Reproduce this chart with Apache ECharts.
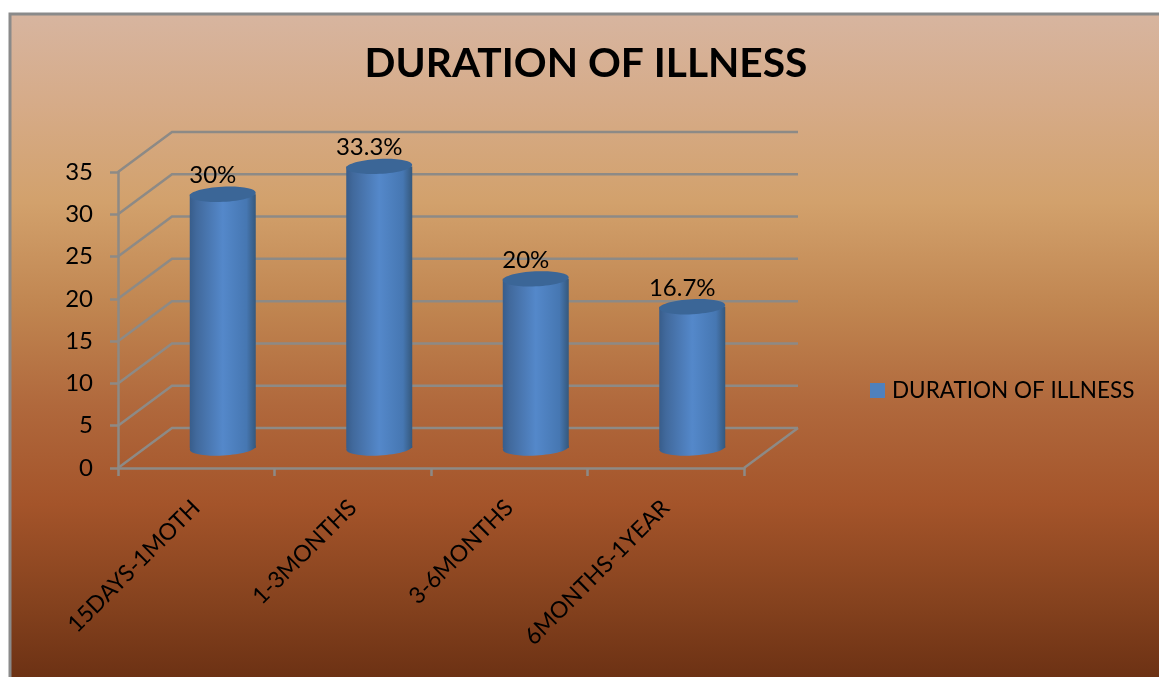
<!DOCTYPE html>
<html>
<head>
<meta charset="utf-8">
<title>Duration of illness</title>
<style>html,body{margin:0;padding:0;background:#fff}#chart{width:1159px;height:677px}</style>
<script src="https://cdn.jsdelivr.net/npm/echarts@6/dist/echarts.min.js"></script>
</head>
<body>
<div id="chart"></div>
<script>
const chartTitle = 'DURATION OF ILLNESS';
const categories = ['15DAYS-1MOTH', '1-3MONTHS', '3-6MONTHS', '6MONTHS-1YEAR'];
const durationValues = [30, 33.3, 20, 16.7];
const yTicks = [0, 5, 10, 15, 20, 25, 30, 35];

// Depth of the pseudo-3D box, in pixels.
const DEPTH_X = 54, DEPTH_Y = -40;
const FONT = 'Lato, "Open Sans", sans-serif';
const LINE = '#8d8a86';
const LINE_WIDTH = 2.5;

const chart = echarts.init(document.getElementById('chart'), null, { renderer: 'canvas' });

// Back wall lines, their slanted returns along the side wall, and the floor edge.
function renderWall(params, api) {
  const cs = params.coordSys;
  const y = api.coord([0, api.value(0)])[1];
  const left = cs.x, right = cs.x + cs.width;
  const children = [{
    type: 'polyline',
    shape: { points: [[left, y], [left + DEPTH_X, y + DEPTH_Y], [right + DEPTH_X, y + DEPTH_Y]] },
    style: { fill: null, stroke: LINE, lineWidth: LINE_WIDTH }
  }];
  if (params.dataIndex === 0) {
    children.push({
      type: 'line',
      shape: { x1: right, y1: y, x2: right + DEPTH_X, y2: y + DEPTH_Y },
      style: { stroke: LINE, lineWidth: LINE_WIDTH }
    });
  }
  return { type: 'group', children };
}

// Shaded cylinder standing halfway into the depth of the box, with its value above.
function renderCylinder(params, api) {
  const top = api.coord([api.value(0), api.value(1)]);
  const base = api.coord([api.value(0), 0]);
  const cx = top[0] + DEPTH_X / 2 - 0.5;
  const topY = top[1] + DEPTH_Y / 2;
  const baseY = base[1] + DEPTH_Y / 2;
  const rx = 33, ry = 7.5;
  const tilt = 0.05;
  const side = new echarts.graphic.LinearGradient(0, 0, 1, 0, [
    { offset: 0, color: '#385d8b' },
    { offset: 0.1, color: '#41699c' },
    { offset: 0.5, color: '#5488ca' },
    { offset: 0.86, color: '#4677b2' },
    { offset: 1, color: '#35587c' }
  ]);
  return {
    type: 'group',
    children: [
      { type: 'ellipse', shape: { cx, cy: baseY, rx, ry }, rotation: tilt, originX: cx, originY: baseY, style: { fill: side } },
      { type: 'rect', shape: { x: cx - rx, y: topY, width: rx * 2, height: baseY - topY }, style: { fill: side } },
      { type: 'ellipse', shape: { cx, cy: topY, rx, ry }, rotation: tilt, originX: cx, originY: topY, style: { fill: '#3b6697' } },
      {
        type: 'text',
        style: {
          x: cx - 10, y: topY - 19,
          text: api.value(1) + '%',
          align: 'center', verticalAlign: 'middle',
          font: '24px ' + FONT, fill: '#000'
        }
      }
    ]
  };
}

chart.setOption({
  animation: false,
  graphic: [{
    type: 'rect',
    z: -10,
    shape: { x: 10, y: 14, width: 1200, height: 700 },
    style: {
      stroke: '#8a8a8a',
      lineWidth: 3,
      fill: new echarts.graphic.LinearGradient(0, 0, 0, 1, [
        { offset: 0, color: '#d7b5a0' },
        { offset: 0.13, color: '#d6ab88' },
        { offset: 0.27, color: '#d2a16c' },
        { offset: 0.42, color: '#c08550' },
        { offset: 0.56, color: '#b0683c' },
        { offset: 0.7, color: '#a4542a' },
        { offset: 0.84, color: '#85421e' },
        { offset: 1, color: '#60290f' }
      ])
    }
  }],
  title: {
    text: chartTitle,
    left: 581, top: 38, textAlign: 'center',
    textStyle: { fontFamily: FONT, fontWeight: 'bold', fontSize: 40.7, color: '#000' }
  },
  legend: {
    data: [chartTitle],
    left: 865, top: 374,
    itemWidth: 15, itemHeight: 15, itemGap: 0,
    icon: 'rect',
    textStyle: { fontFamily: FONT, fontSize: 22.5, color: '#000', padding: [0, 0, 0, 2] }
  },
  grid: { left: 118, right: 415, top: 172, bottom: 209 },
  xAxis: {
    type: 'category',
    data: categories,
    axisLine: { lineStyle: { color: LINE, width: LINE_WIDTH } },
    axisTick: { show: true, length: 8, alignWithLabel: false, lineStyle: { color: LINE, width: LINE_WIDTH } },
    axisLabel: { rotate: 45, margin: 36, interval: 0, fontFamily: FONT, fontSize: 23, color: '#000' }
  },
  yAxis: {
    type: 'value',
    min: 0, max: 35, interval: 5,
    axisLine: { show: true, lineStyle: { color: LINE, width: LINE_WIDTH } },
    axisTick: { show: true, length: 8, lineStyle: { color: LINE, width: LINE_WIDTH } },
    axisLabel: { margin: 25, fontFamily: FONT, fontSize: 24, color: '#000',
      customValues: yTicks },
    splitLine: { show: false }
  },
  series: [
    {
      name: 'wall',
      type: 'custom',
      coordinateSystem: 'cartesian2d',
      renderItem: renderWall,
      encode: { y: 0 },
      data: yTicks.map(v => [v]),
      silent: true,
      z: 1
    },
    {
      name: chartTitle,
      type: 'custom',
      coordinateSystem: 'cartesian2d',
      renderItem: renderCylinder,
      encode: { x: 0, y: 1 },
      itemStyle: { color: '#4f81bd' },
      data: durationValues.map((v, i) => [i, v]),
      z: 3
    }
  ]
});
</script>
</body>
</html>
